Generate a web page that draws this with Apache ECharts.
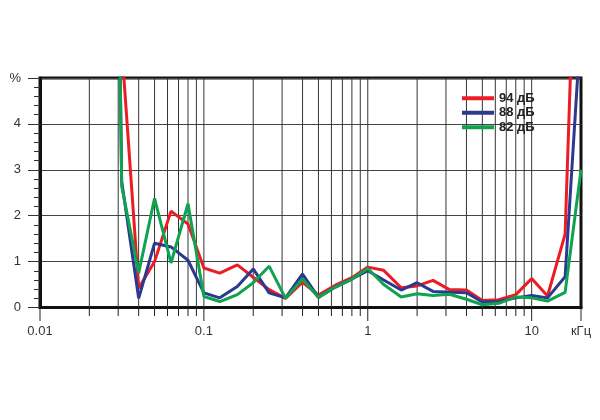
<!DOCTYPE html>
<html>
<head>
<meta charset="utf-8">
<script src="https://cdn.jsdelivr.net/npm/echarts@6/dist/echarts.min.js"></script>
<style>html,body{margin:0;padding:0;background:#fff}#c{width:600px;height:420px}</style>
</head>
<body>
<div id="c"></div>
<script>
// Frequencies in kHz (1/3-octave points)
const freqs = [0.025, 0.0315, 0.04, 0.05, 0.063, 0.08, 0.1, 0.125, 0.16, 0.2, 0.25, 0.315, 0.4, 0.5, 0.63, 0.8, 1, 1.25, 1.6, 2, 2.5, 3.15, 4, 5, 6.3, 8, 10, 12.5, 16, 20];
// THD, %
const red94 = [30, 5.7, 0.42, 1.0, 2.1, 1.82, 0.86, 0.75, 0.93, 0.66, 0.39, 0.2, 0.55, 0.27, 0.48, 0.65, 0.88, 0.81, 0.43, 0.47, 0.59, 0.39, 0.38, 0.15, 0.17, 0.28, 0.63, 0.25, 1.6, 12];
const blue88 = [30, 2.75, 0.2, 1.4, 1.32, 1.03, 0.32, 0.21, 0.46, 0.84, 0.32, 0.21, 0.73, 0.22, 0.44, 0.62, 0.8, 0.6, 0.38, 0.54, 0.35, 0.33, 0.32, 0.12, 0.13, 0.21, 0.26, 0.21, 0.67, 6.2];
const green82 = [30, 2.65, 0.75, 2.38, 0.97, 2.26, 0.24, 0.13, 0.28, 0.54, 0.9, 0.2, 0.62, 0.22, 0.44, 0.62, 0.85, 0.5, 0.23, 0.3, 0.26, 0.29, 0.18, 0.06, 0.09, 0.23, 0.21, 0.14, 0.33, 3.0];
const seriesNames = ['94 дБ', '88 дБ', '82 дБ'];
// Axis ticks (kHz)
const xMin = 0.01, xMax = 20;
const xGridVals = [0.02,0.03,0.04,0.05,0.06,0.07,0.08,0.09,0.1,0.2,0.3,0.4,0.5,0.6,0.7,0.8,0.9,1,2,3,4,5,6,7,8,9,10,20];
const xMajorVals = [0.01, 0.1, 1, 10, 20];
const xLabels = ['0.01', '0.1', '1', '10', 'кГц'];
const yMin = 0, yMax = 5;
const yLabels = ['0', '1', '2', '3', '4', '%'];

const colors = ['#ec1c24', '#2b3990', '#0fa24f'];
// logarithmic frequency axis: the value axis works on log10(f)
const lg = Math.log10;
const pairs = arr => freqs.map((f, i) => [lg(f), arr[i]]);
const near = (a, b) => Math.abs(a - b) < 1e-6;
const labelFor = v => {
  const k = xMajorVals.findIndex(m => near(lg(m), v));
  return k >= 0 ? xLabels[k] : '';
};
const isMajor = v => xMajorVals.some(m => near(lg(m), v));
const isGrid = v => xGridVals.some(m => near(lg(m), v)) && !near(v, lg(xMax));
const tickVals = Array.from(new Set(xGridVals.concat(xMajorVals))).map(lg);

const chart = echarts.init(document.getElementById('c'));
const font = 'Liberation Sans, Arial, sans-serif';
chart.setOption({
  animation: false,
  grid: [
    { left: 40, right: 19, top: 78, bottom: 112.5, show: true, borderColor: '#111', borderWidth: 3, backgroundColor: 'transparent' },
    // strip just under the plot that holds the frequency tick marks
    { left: 40, right: 19, top: 309, height: 13, show: false }
  ],
  legend: {
    orient: 'vertical', left: 457, top: 86, itemGap: 0,
    itemWidth: 32, itemHeight: 4, icon: 'rect',
    textStyle: { fontFamily: font, fontWeight: 'bold', fontSize: 13, color: '#222', lineHeight: 14.5 },
    data: seriesNames
  },
  xAxis: [{
    type: 'value', min: lg(xMin), max: lg(xMax), position: 'bottom', gridIndex: 0,
    axisLine: { show: true, onZero: false, lineStyle: { color: '#111', width: 3 } },
    axisTick: { show: false },
    splitLine: { show: false },
    axisLabel: { show: true, customValues: xMajorVals.map(lg), formatter: labelFor, margin: 17, fontSize: 13, fontFamily: font, color: '#333' }
  }, {
    type: 'value', min: lg(xMin), max: lg(xMax), gridIndex: 1, show: false
  }],
  yAxis: [{
    type: 'value', min: yMin, max: yMax, interval: 1, gridIndex: 0,
    axisLine: { show: true, onZero: false, lineStyle: { color: '#111', width: 3 } },
    axisTick: { show: true, length: 12, lineStyle: { color: '#333' } },
    minorTick: { show: true, splitNumber: 5, length: 6, lineStyle: { color: '#333' } },
    splitLine: { show: true, lineStyle: { color: '#444', width: 1 } },
    axisLabel: { formatter: (v) => yLabels[Math.round(v)], margin: 19, fontSize: 13, fontFamily: font, color: '#333' }
  }, {
    type: 'value', min: 0, max: 13, inverse: true, gridIndex: 1, show: false
  }],
  series: [
    {
      // log-spaced frequency grid lines, placed through the axis scale
      name: 'grid', type: 'custom', silent: true, z: 1, xAxisIndex: 0, yAxisIndex: 0,
      data: tickVals.filter(isGrid).map(v => [v, yMin]),
      renderItem: (params, api) => {
        const v = api.value(0);
        const p0 = api.coord([v, yMin]);
        const p1 = api.coord([v, yMax]);
        return { type: 'line', shape: { x1: p0[0], y1: p0[1], x2: p1[0], y2: p1[1] }, style: { stroke: '#333', lineWidth: 1 } };
      }
    },
    {
      // tick marks under the frequency axis
      name: 'ticks', type: 'custom', silent: true, z: 1, xAxisIndex: 1, yAxisIndex: 1,
      data: tickVals.map(v => [v, 0]),
      renderItem: (params, api) => {
        const v = api.value(0);
        const p0 = api.coord([v, 0]);
        const p1 = api.coord([v, isMajor(v) ? 12 : 7]);
        return { type: 'line', shape: { x1: p0[0], y1: p0[1], x2: p1[0], y2: p1[1] }, style: { stroke: '#222', lineWidth: 1 } };
      }
    },
    { name: seriesNames[0], type: 'line', data: pairs(red94), symbol: 'none', color: colors[0], lineStyle: { width: 3, color: colors[0] }, z: 3 },
    { name: seriesNames[1], type: 'line', data: pairs(blue88), symbol: 'none', color: colors[1], lineStyle: { width: 3, color: colors[1] }, z: 3 },
    { name: seriesNames[2], type: 'line', data: pairs(green82), symbol: 'none', color: colors[2], lineStyle: { width: 3, color: colors[2] }, z: 3 }
  ]
});
</script>
</body>
</html>
